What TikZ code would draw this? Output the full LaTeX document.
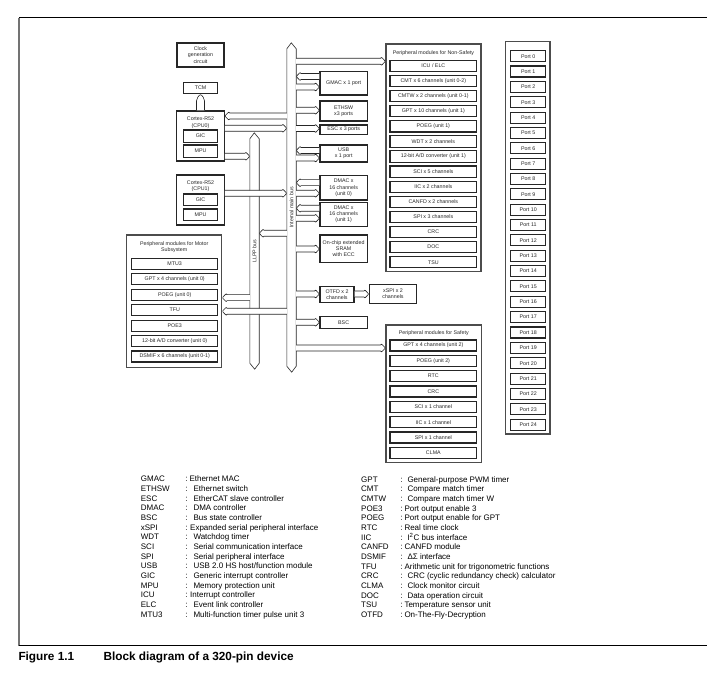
\documentclass[tikz,border=0pt]{standalone}
\usepackage{fontspec}
\setmainfont{Liberation Sans}
\usetikzlibrary{calc}
% box from corners: [style]{x1}{y1}{x2}{y2}{name}{text}
\newcommand\rbox[7][bx]{\node[#1, minimum width={#4-#2}, minimum height={#5-#3}] (#6) at ({(#2+#4)/2},{(#3+#5)/2}) {#7};}
% hollow bus arrow: {tail anchor}{tip anchor}{y}
\newcommand\harr[3]{%
  \draw[arr] let \p1=(#1 |- 0,#3), \p2=(#2 |- 0,#3), \n1={\x2-4*sign(\x2-\x1)} in
    (\x1,\y1+3pt) -- (\n1,\y1+3pt) -- (\n1,\y1+4.2pt) -- (\x2,\y1) -- (\n1,\y1-4.2pt) -- (\n1,\y1-3pt) -- (\x1,\y1-3pt);}
\begin{document}
\begin{tikzpicture}[x=1pt,y=-1pt,
  every node/.style={font=\fontsize{5.3}{6.2}\selectfont, text=black!85, align=center, inner sep=0pt},
  bx/.style={draw=black!85, line width=1.1pt, fill=white},
  cont/.style={draw=black!70, line width=1.2pt},
  arr/.style={draw=black!85, line width=0.6pt, fill=white, line join=round, rounded corners=0.8pt},
  busline/.style={draw=black!85, line width=0.6pt, fill=white},
  busnode/.style={minimum width=9pt, inner sep=0pt},
  leg/.style={font=\fontsize{8}{9}\selectfont, anchor=base west, text=black},
  figcap/.style={font=\bfseries\fontsize{11.8}{14}\selectfont, anchor=base west, text=black},
]
\useasboundingbox (0,0) rectangle (707,676);

% frame
\draw[black, line width=1pt] (19,18) -- (707,18);
\draw[black!55, line width=1.3pt] (19,18) -- (19,645.5);
\draw[black, line width=1pt] (19,645.5) -- (707,645.5);

% left column blocks
\rbox{177}{43}{224}{67}{clk}{Clock\\generation\\circuit}
\rbox{183.3}{82.3}{217.7}{93.3}{tcm}{TCM}
\rbox{176.7}{111}{224.3}{161}{cpu0}{}
\node (cpu0t) at (200.5,122.7) {Cortex-R52\\(CPU0)};
\rbox{183.3}{130}{217.7}{142.3}{gic0}{GIC}
\rbox{183.3}{145}{217.7}{157.3}{mpu0}{MPU}
\rbox{176.7}{175}{224.3}{225}{cpu1}{}
\node (cpu1t) at (200.5,186.3) {Cortex-R52\\(CPU1)};
\rbox{183.3}{194}{217.7}{205.7}{gic1}{GIC}
\rbox{183.3}{209}{217.7}{220.7}{mpu1}{MPU}

% TCM link
\draw[arr, rounded corners=2pt] let \p1=(cpu0.north), \p2=(tcm.south) in
  (\x1-4pt,\y1) -- (\x1-4pt,\y2-5pt) -- (\x1,\y2) -- (\x1+4pt,\y2-5pt) -- (\x1+4pt,\y1);

% motor subsystem
\rbox[cont]{126.7}{235}{221.7}{367.7}{motor}{}
\node (motort) at (174.2,247.3) {Peripheral modules for Motor\\Subsystem};
\foreach \lab [count=\i from 0] in {MTU3, GPT x 4 channels (unit 0), POEG (unit 0), TFU, POE3, 12-bit A/D converter (unit 0), DSMIF x 6 channels (unit 0-1)}{
  \pgfmathsetmacro\t{258.3+15.45*\i}
  \rbox{131.7}{\t}{217.7}{\t+11}{mo\i}{\lab}
}

% right-of-bus blocks
\rbox{320}{71.7}{367.3}{95}{gmac}{GMAC x 1 port}
\rbox{320}{101}{367.3}{121}{ethsw}{ETHSW\\x3 ports}
\rbox{320}{125}{367.3}{134.3}{esc}{ESC x 3 ports}
\rbox{320}{145}{367.3}{162}{usb}{USB\\x 1 port}
\rbox{320}{175.7}{367.3}{200}{dmac0}{DMAC x\\16 channels\\(unit 0)}
\rbox{320}{202.3}{367.3}{226.7}{dmac1}{DMAC x\\16 channels\\(unit 1)}
\rbox{320}{235}{367.3}{262.3}{sram}{On-chip extended\\SRAM\\with ECC}
\rbox{320}{286.7}{354}{302.3}{otfd}{OTFD x 2\\channels}
\rbox{369.3}{284.3}{416.7}{303.3}{xspi}{xSPI x 2\\channels}
\rbox{320}{316.7}{367.3}{328.3}{bsc}{BSC}

% non-safety
\rbox[cont]{386}{44}{481}{271.7}{nonsafety}{}
\node (nst) at (433.5,53.3) {Peripheral modules for Non-Safety};
\foreach \lab [count=\i from 0] in {ICU / ELC, CMT x 6 channels (unit 0-2), CMTW x 2 channels (unit 0-1), GPT x 10 channels (unit 1), POEG (unit 1), WDT x 2 channels, 12-bit A/D converter (unit 1), SCI x 5 channels, IIC x 2 channels, CANFD x 2 channels, SPI x 3 channels, CRC, DOC, TSU}{
  \pgfmathsetmacro\t{60.3+15.1*\i}
  \rbox{390}{\t}{476.7}{\t+11.3}{ns\i}{\lab}
}

% safety
\rbox[cont]{386}{325}{481.7}{462.7}{safety}{}
\node (sft) at (433.8,333.3) {Peripheral modules for Safety};
\foreach \lab [count=\i from 0] in {GPT x 4 channels (unit 2), POEG (unit 2), RTC, CRC, SCI x 1 channel, IIC x 1 channel, SPI x 1 channel, CLMA}{
  \pgfmathsetmacro\t{340+15.33*\i}
  \rbox{390}{\t}{476.7}{\t+11}{sf\i}{\lab}
}

% ports
\rbox[cont]{505.7}{41.7}{550}{434}{ports}{}
\foreach \i in {0,...,24}{
  \pgfmathsetmacro\t{50.7+15.35*\i}
  \rbox{510.7}{\t}{545.7}{\t+11}{port\i}{Port \i}
}

% buses
\node[busnode, minimum height=317pt] (mainbus) at (291.5,207.5) {};
\draw[busline] (mainbus.south west) -- (mainbus.north west) -- ++(4.5,-6) -- (mainbus.north east)
  -- (mainbus.south east) -- ++(-4.5,6) -- cycle;
\node[rotate=90] (mainlbl) at (291.5,207.5) {Internal main bus};
\node[busnode, minimum height=224pt] (llpp) at (254.5,251) {};
\draw[busline] (llpp.south west) -- (llpp.north west) -- ++(4.5,-6) -- (llpp.north east)
  -- (llpp.south east) -- ++(-4.5,6) -- cycle;
\node[rotate=90] (llpplbl) at (254.5,251) {LLPP bus};

% arrows right of main bus
\harr{mainbus.east}{nonsafety.west}{61.3}
\harr{gmac.west}{mainbus.east}{76.5}
\harr{mainbus.east}{gmac.west}{87}
\harr{mainbus.east}{ethsw.west}{110.3}
\harr{mainbus.east}{esc.west}{128.5}
\harr{usb.west}{mainbus.east}{150.5}
\harr{mainbus.east}{usb.west}{158}
\harr{dmac0.west}{mainbus.east}{182.7}
\harr{mainbus.east}{dmac0.west}{193.3}
\harr{dmac1.west}{mainbus.east}{208.3}
\harr{mainbus.east}{dmac1.west}{218.3}
\harr{mainbus.east}{sram.west}{249}
\harr{mainbus.east}{otfd.west}{294}
\harr{otfd.east}{xspi.west}{294}
\harr{mainbus.east}{bsc.west}{322.3}
\harr{mainbus.east}{safety.west}{348}
% arrows left of main bus
\harr{mainbus.west}{cpu0.east}{116}
\harr{cpu0.east}{mainbus.west}{128.3}
\harr{cpu0.east}{llpp.west}{156.3}
\harr{cpu1.east}{mainbus.west}{193.3}
\harr{mainbus.west}{llpp.east}{233.3}
\harr{llpp.west}{motor.east}{297.7}
\harr{mainbus.west}{motor.east}{311.3}

% legend left
\foreach \ab/\de/\dx [count=\i from 0] in {
  GMAC/Ethernet MAC/189.3, ETHSW/Ethernet switch/193.3, ESC/EtherCAT slave controller/193.3,
  DMAC/DMA controller/193.3, BSC/Bus state controller/193.3, xSPI/Expanded serial peripheral interface/190,
  WDT/Watchdog timer/193.3, SCI/Serial communication interface/193.3, SPI/Serial peripheral interface/193.3,
  USB/USB 2.0 HS host\slash function module/193.3, GIC/Generic interrupt controller/193.3,
  MPU/Memory protection unit/193.3, ICU/Interrupt controller/190, ELC/Event link controller/193.3,
  MTU3/Multi-function timer pulse unit 3/193.3}{
  \pgfmathsetmacro\b{481.7+9.69*\i}
  \node[leg] (la\i) at (140.7,\b) {\ab};
  \node[leg] (lc\i) at (185.2,\b) {:};
  \node[leg] (ld\i) at (\dx,\b) {\de};
}
% legend right
\foreach \ab/\de/\dx [count=\i from 0] in {
  GPT/General-purpose PWM timer/407.3, CMT/Compare match timer/407.3, CMTW/Compare match timer W/407.3,
  POE3/Port output enable 3/404.3, POEG/Port output enable for GPT/404.3, RTC/Real time clock/404.3,
  IIC/I\textsuperscript{2}C bus interface/407.3, CANFD/CANFD module/404.3, DSMIF/ΔΣ interface/407.3,
  TFU/Arithmetic unit for trigonometric functions/404.3, CRC/CRC (cyclic redundancy check) calculator/407.3,
  CLMA/Clock monitor circuit/407.3, DOC/Data operation circuit/407.3, TSU/Temperature sensor unit/404.3,
  OTFD/On-The-Fly-Decryption/404.3}{
  \pgfmathsetmacro\b{482.2+9.65*\i}
  \node[leg] (ra\i) at (361,\b) {\ab};
  \node[leg] (rc\i) at (400.5,\b) {:};
  \node[leg] (rd\i) at (\dx,\b) {\de};
}

% caption
\node[figcap] (capa) at (18.3,660.5) {Figure 1.1};
\node[figcap] (capb) at (103.3,660.5) {Block diagram of a 320-pin device};
\end{tikzpicture}
\end{document}
